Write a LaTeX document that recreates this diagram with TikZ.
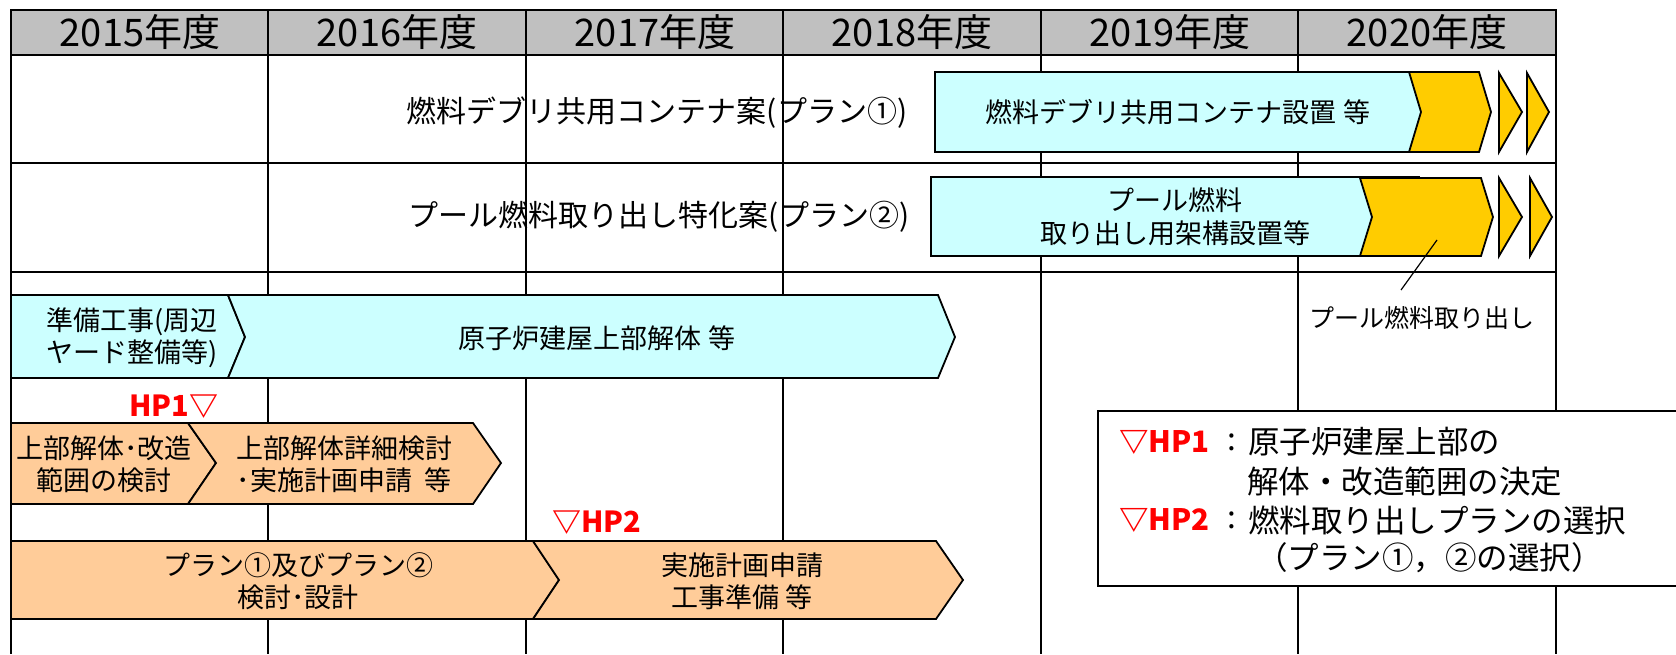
\documentclass[tikz,border=0pt]{standalone}
\usepackage{fontspec}
\setmainfont{Noto Sans CJK JP}
\definecolor{hdr}{HTML}{C0C0C0}
\definecolor{cy}{HTML}{CCFFFF}
\definecolor{og}{HTML}{FFCC99}
\definecolor{yl}{HTML}{FFCC00}
\begin{document}
\begin{tikzpicture}[x=1pt,y=-1pt,
  gridline/.style={line width=2pt},
  bar/.style={draw=black, line width=1.8pt, line join=miter},
  cyanbar/.style={bar, fill=cy},
  orangebar/.style={bar, fill=og},
  yellowbar/.style={bar, fill=yl},
  txt/.style={inner sep=0pt, align=center},
  hdrtxt/.style={txt, font=\fontsize{38}{42}\selectfont},
  lbltxt/.style={txt, font=\fontsize{30}{34}\selectfont},
  bartxt/.style={txt, font=\fontsize{27}{32}\selectfont},
  hptxt/.style={txt, text=red, font=\fontsize{29}{32}\selectfont\bfseries},
  legtxt/.style={inner sep=0pt, anchor=west, font=\fontsize{31.5}{36}\selectfont},
  leghp/.style={legtxt, text=red, font=\fontsize{29.5}{36}\selectfont\bfseries},
  ]
\useasboundingbox (0,0) rectangle (1676,654);
\fill[white] (0,0) rectangle (1676,654);
% grid
\draw[gridline, fill=hdr] (11,10) rectangle (1556,55);
\foreach \x in {268,526,783,1041,1298} \draw[gridline] (\x,10) -- (\x,654);
\draw[gridline] (11,10) -- (11,654);
\draw[gridline] (1556,10) -- (1556,654);
\draw[gridline] (11,163) -- (1556,163);
\draw[gridline] (11,272) -- (1556,272);
% header
\node[hdrtxt] (h15) at (140,32) {2015年度};
\node[hdrtxt] (h16) at (397,32) {2016年度};
\node[hdrtxt] (h17) at (655,32) {2017年度};
\node[hdrtxt] (h18) at (912,32) {2018年度};
\node[hdrtxt] (h19) at (1170,32) {2019年度};
\node[hdrtxt] (h20) at (1427,32) {2020年度};
% row labels
\node[lbltxt] (plan1) at (657,113) {燃料デブリ共用コンテナ案(プラン①)};
\node[lbltxt] (plan2) at (659,217) {プール燃料取り出し特化案(プラン②)};
% row 1 bars
\draw[cyanbar] (935,72) rectangle (1430,152);
\draw[yellowbar] (1409,72) -- (1479,72) -- (1491,112) -- (1479,152) -- (1409,152) -- (1421,112) -- cycle;
\draw[yellowbar] (1499,73) -- (1522,112) -- (1499,152) -- cycle;
\draw[yellowbar] (1527,73) -- (1549,112) -- (1527,152) -- cycle;
\node[bartxt] (b1) at (1178,112) {燃料デブリ共用コンテナ設置 等};
% row 2 bars
\draw[cyanbar] (931,177) rectangle (1419,256);
\draw[yellowbar] (1360,178) -- (1481,178) -- (1493,217) -- (1481,256) -- (1360,256) -- (1372,217) -- cycle;
\draw[yellowbar] (1499,178) -- (1522,217) -- (1499,256) -- cycle;
\draw[yellowbar] (1530,178) -- (1552,217) -- (1530,256) -- cycle;
\node[bartxt] (b2) at (1175,217) {プール燃料\\[1pt]取り出し用架構設置等};
% pointer
\coordinate (ptr) at (1437,240);
\coordinate (ptrend) at (1401,290);
\node[txt, font=\fontsize{25}{30}\selectfont] (poolout) at (1422,318) {プール燃料取り出し};
\draw[line width=1.2pt] (ptr) -- (ptrend);
% row 3 bars
\draw[cyanbar] (11,295) -- (228,295) -- (245,337) -- (228,378) -- (11,378) -- cycle;
\draw[cyanbar] (228,295) -- (938,295) -- (955,337) -- (938,378) -- (228,378) -- (245,337) -- cycle;
\node[bartxt] (b3a) at (132,338) {準備工事(周辺\\ヤード整備等)};
\node[bartxt] (b3b) at (597,338) {原子炉建屋上部解体 等};
% HP1 row
\node[hptxt] (hp1) at (174,407) {HP1▽};
\draw[orangebar] (11,423) -- (188,423) -- (216,463) -- (188,504) -- (11,504) -- cycle;
\draw[orangebar] (188,423) -- (473,423) -- (501,463) -- (473,504) -- (188,504) -- (216,463) -- cycle;
\node[bartxt] (o1a) at (104,464) {上部解体･改造\\範囲の検討};
\node[bartxt] (o1b) at (344,464) {上部解体詳細検討\\･実施計画申請\ \ 等};
% HP2 row
\node[hptxt] (hp2) at (597,523) {▽HP2};
\draw[orangebar] (11,541) -- (533,541) -- (559,580) -- (533,619) -- (11,619) -- cycle;
\draw[orangebar] (533,541) -- (936,541) -- (963,580) -- (936,619) -- (533,619) -- (559,580) -- cycle;
\node[bartxt] (o2a) at (298,581) {プラン①及びプラン②\\検討･設計};
\node[bartxt] (o2b) at (742,581) {実施計画申請\\工事準備 等};
% legend
\draw[line width=1.8pt, fill=white] (1098,411) rectangle (1700,586);
\node[leghp] (l1a) at (1119,442) {▽HP1};
\node[legtxt, anchor=center] (l1c) at (1232,442) {:};
\node[legtxt] (l1b) at (1248,442) {原子炉建屋上部の};
\node[legtxt] (l2) at (1247,482) {解体・改造範囲の決定};
\node[leghp] (l3a) at (1119,520) {▽HP2};
\node[legtxt, anchor=center] (l3c) at (1232,520) {:};
\node[legtxt] (l3b) at (1248,520) {燃料取り出しプランの選択};
\node[legtxt] (l4) at (1256,558) {（プラン①，②の選択）};
\end{tikzpicture}
\end{document}
